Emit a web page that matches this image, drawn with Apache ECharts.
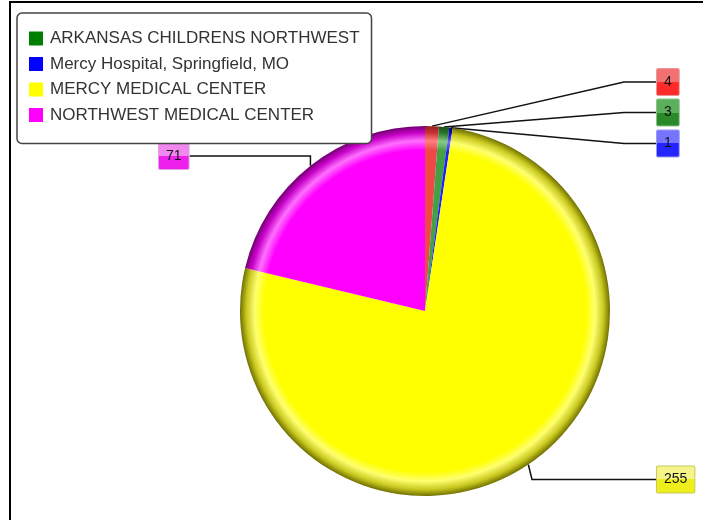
<!DOCTYPE html>
<html>
<head>
<meta charset="utf-8">
<script src="https://cdn.jsdelivr.net/npm/echarts@6/dist/echarts.min.js"></script>
<style>
  html, body { margin: 0; padding: 0; background: #fff; }
  #chart-ctn { width: 703px; height: 520px; }
</style>
</head>
<body>
<div id="chart-ctn"></div>
<script>
// data, clockwise from 12 o'clock
var sliceNames = ['Other', 'ARKANSAS CHILDRENS NORTHWEST', 'Mercy Hospital, Springfield, MO', 'MERCY MEDICAL CENTER', 'NORTHWEST MEDICAL CENTER'];
var sliceValues = [4, 3, 1, 255, 71];
var legendNames = ['ARKANSAS CHILDRENS NORTHWEST', 'Mercy Hospital, Springfield, MO', 'MERCY MEDICAL CENTER', 'NORTHWEST MEDICAL CENTER'];

// styles
var legendColors = {
  'ARKANSAS CHILDRENS NORTHWEST': '#008000',
  'Mercy Hospital, Springfield, MO': '#0000ff',
  'MERCY MEDICAL CENTER': '#ffff00',
  'NORTHWEST MEDICAL CENTER': '#ff00ff'
};
// base, rim highlight, rim shade, edge
var rimColors = [
  ['#f04848', '#ff8080', '#c83030', '#902020'],
  ['#44a044', '#88cc88', '#2c7a2c', '#1a501a'],
  ['#2020ff', '#7070ff', '#1010c0', '#000080'],
  ['#ffff00', '#ffff70', '#c8c820', '#707000'],
  ['#ff00ff', '#ff70ff', '#c800c8', '#700070']
];
var boxColors = [
  ['#f27070', '#ff2a2a', '#e89898'],
  ['#5cb05c', '#2a8a2a', '#8cc08c'],
  ['#7474ff', '#2424ff', '#9a9aee'],
  ['#f4f488', '#eeee1c', '#c8c860'],
  ['#f088f0', '#ec22ec', '#e0a0e0']
];
var labelSpots = [[657, 82], [657, 112.5], [657, 143.5], [657, 479.5], [159, 156]];
var lineLen = [32, 32, 32, 124, 122];

var pieX = 425, pieY = 311, pieR = 185;

function sliceFill(c) {
  return new echarts.graphic.RadialGradient(pieX, pieY, pieR, [
    {offset: 0, color: c[0]},
    {offset: 0.87, color: c[0]},
    {offset: 0.92, color: c[1]},
    {offset: 0.965, color: c[2]},
    {offset: 1, color: c[3]}
  ], true);
}

function boxFill(c) {
  return new echarts.graphic.LinearGradient(0, 0, 0, 1, [
    {offset: 0, color: c[0]},
    {offset: 0.5, color: c[0]},
    {offset: 0.5, color: c[1]},
    {offset: 1, color: c[1]}
  ]);
}

var pieData = [];
for (var i = 0; i < sliceValues.length; i++) {
  pieData.push({
    name: sliceNames[i],
    value: sliceValues[i],
    itemStyle: {color: sliceFill(rimColors[i])},
    label: {backgroundColor: boxFill(boxColors[i]), borderColor: boxColors[i][2]},
    labelLine: {length2: lineLen[i]}
  });
}

var legendData = [];
for (var j = 0; j < legendNames.length; j++) {
  legendData.push({name: legendNames[j], itemStyle: {color: legendColors[legendNames[j]]}});
}

var myChart = echarts.init(document.getElementById('chart-ctn'));

var option = {
  animation: false,
  backgroundColor: '#fff',
  graphic: [{
    type: 'rect',
    shape: {x: 10, y: 2, width: 800, height: 600},
    style: {fill: 'none', stroke: '#000', lineWidth: 2},
    silent: true
  }],
  legend: {
    data: legendData,
    orient: 'vertical',
    left: 17,
    top: 13,
    padding: [17, 12, 20, 12],
    itemGap: 8.5,
    itemWidth: 14,
    itemHeight: 14,
    icon: 'rect',
    borderColor: '#444',
    borderWidth: 1.5,
    borderRadius: 5,
    backgroundColor: '#fff',
    selectedMode: false,
    textStyle: {
      fontFamily: 'Liberation Sans',
      fontSize: 17,
      color: '#333',
      padding: [0, 0, 0, 2]
    }
  },
  series: [{
    type: 'pie',
    center: [pieX, pieY],
    radius: pieR,
    startAngle: 90,
    clockwise: true,
    avoidLabelOverlap: false,
    silent: true,
    data: pieData,
    label: {
      show: true,
      position: 'outside',
      formatter: '{c}',
      fontFamily: 'Liberation Sans',
      fontSize: 14,
      color: '#111',
      padding: [6, 7, 6, 7],
      borderWidth: 1,
      borderRadius: 1
    },
    labelLine: {
      show: true,
      lineStyle: {color: '#111', width: 1.5}
    },
    labelLayout: function (params) {
      var p = labelSpots[params.dataIndex];
      return {x: p[0], y: p[1], align: 'left', verticalAlign: 'middle'};
    }
  }]
};

myChart.setOption(option);
</script>
</body>
</html>
